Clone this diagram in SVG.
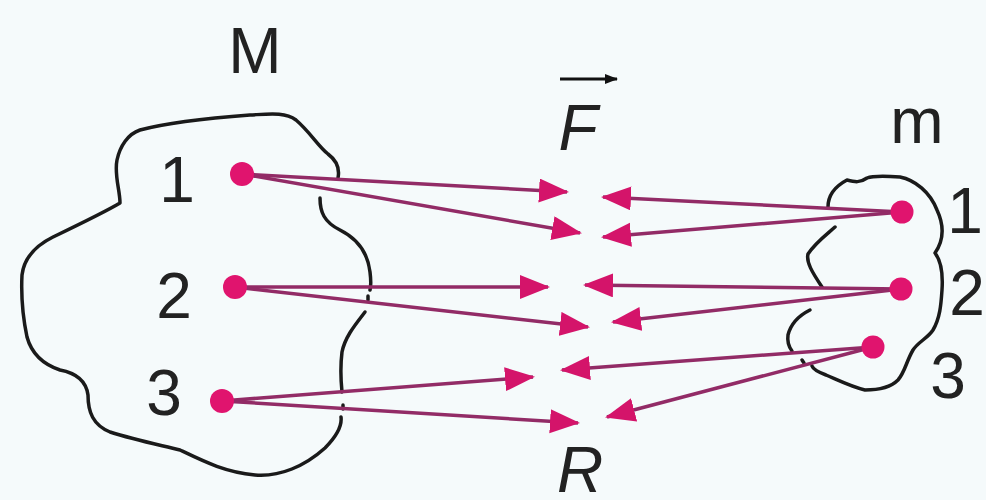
<svg xmlns="http://www.w3.org/2000/svg" width="986" height="500" viewBox="0 0 986 500">
<defs>
<style>
.lbl{font-family:"Liberation Sans",Arial,sans-serif;font-size:64px;fill:#222;text-anchor:middle}
.it{font-style:italic}
.out{fill:none;stroke:#1a1a1a;stroke-width:3.5;stroke-linecap:round;stroke-linejoin:round}
.ln{fill:none;stroke:#922b66;stroke-width:3.5;marker-end:url(#ah)}
.dot{fill:#e0146e}
</style>
<marker id="ah" markerUnits="userSpaceOnUse" markerWidth="32" markerHeight="26" refX="28" refY="12" orient="auto">
<path d="M0,0 L30,12 L0,24 z" fill="#d4146a"/>
</marker>
<marker id="bk" markerUnits="userSpaceOnUse" markerWidth="16" markerHeight="12" refX="12" refY="5" orient="auto">
<path d="M0,0 L13,5 L0,10 z" fill="#111"/>
</marker>
</defs>
<rect width="986" height="500" fill="#f5fafb"/>

<g id="body-M">
<path class="out" d="M338,178 C340,168 336,160 328,154 C318,146 310,132 296,120 C285,112 270,114 250,115 C210,118 170,122 140,130 C128,134 120,146 117,160 C114,175 120,190 120,203 C105,212 80,224 53,237 C35,246 24,258 22,275 C21,295 23,318 27,337 C32,355 45,365 60,370 C76,373 86,380 88,395 C88,412 93,425 110,432 C135,440 160,445 180,450 C205,462 225,472 255,475 C280,477 305,466 325,448 C338,435 342,425 341,417"/>
<path class="out" d="M320,198 C320,212 324,222 340,230 C360,240 368,255 370,272 C371,280 371,286 370,290"/>
<path class="out" d="M368,296 L368,300"/>
<path class="out" d="M365,312 C355,325 345,337 342,352 C340,368 341,382 342,392"/>
<path class="out" d="M343,405 L343,409"/>
</g>

<g id="body-m">
<path class="out" d="M828,207 C828,198 832,188 847,180 C855,182 860,183 867,178 C872,176 885,176 900,177 C915,180 930,192 937,210 C944,225 944,240 935,253 C942,262 943,275 942,290 C941,305 940,318 933,330 C928,338 918,342 913,350 C906,362 905,372 898,380 C890,388 877,390 865,390 C852,387 840,381 826,375 C818,372 813,369 812,366"/>
<path class="out" d="M835,227 C826,235 815,243 808,254 C806,262 812,272 822,287"/>
<path class="out" d="M810,310 C800,315 791,323 788,335 C787,342 789,347 792,351"/>
<path class="out" d="M802,360 L804,363"/>
</g>

<g id="connectors">
<path class="ln" d="M242,174 L567,192"/>
<path class="ln" d="M242,174 L580,233"/>
<path class="ln" d="M235,287 L548,287"/>
<path class="ln" d="M235,287 L588,327"/>
<path class="ln" d="M222,401 L533,377"/>
<path class="ln" d="M222,401 L578,423"/>
<path class="ln" d="M902,212 L603,197"/>
<path class="ln" d="M902,212 L603,237"/>
<path class="ln" d="M901,289 L585,285"/>
<path class="ln" d="M901,289 L613,322"/>
<path class="ln" d="M873,347 L562,370"/>
<path class="ln" d="M873,347 L607,417"/>
</g>

<g id="points-M">
<circle class="dot" cx="242" cy="174" r="12"/>
<circle class="dot" cx="235" cy="287" r="12"/>
<circle class="dot" cx="222" cy="401" r="12"/>
</g>
<g id="points-m">
<circle class="dot" cx="902" cy="212" r="11.5"/>
<circle class="dot" cx="901" cy="289" r="11.5"/>
<circle class="dot" cx="873" cy="347" r="11.5"/>
</g>

<g id="labels">
<text class="lbl" x="255" y="73">M</text>
<text class="lbl" x="917" y="143">m</text>
<text class="lbl" x="177" y="202">1</text>
<text class="lbl" x="174" y="318">2</text>
<text class="lbl" x="164" y="415">3</text>
<text class="lbl" x="965" y="233">1</text>
<text class="lbl" x="967" y="315">2</text>
<text class="lbl" x="948" y="398">3</text>
<text class="lbl it" x="578" y="150">F</text>
<path d="M560,79 L617,79" stroke="#111" stroke-width="3" marker-end="url(#bk)"/>
<text class="lbl it" x="580" y="492">R</text>
</g>
</svg>
